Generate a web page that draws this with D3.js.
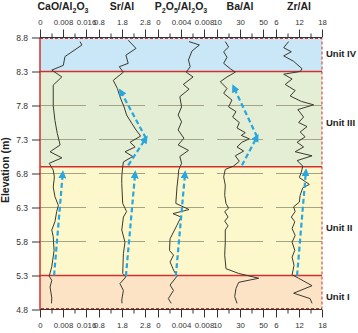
<!DOCTYPE html>
<html>
<head>
<meta charset="utf-8">
<script src="https://cdn.jsdelivr.net/npm/d3@7"></script>
<style>
  body { margin: 0; background: #fff; }
  svg { font-family: "Liberation Sans", Arial, sans-serif; }
</style>
</head>
<body>
<svg id="svg" width="358" height="333"></svg>
<script>
// ---- data ----
let titles = ["CaO/Al2O3", "Sr/Al", "P2O5/Al2O3", "Ba/Al", "Zr/Al"];
let domains = [[0, 0.016], [0.8, 2.8], [0, 0.008], [10, 50], [6, 18]];
let majorTicks = [[0, 0.008, 0.016], [0.8, 1.8, 2.8], [0, 0.004, 0.008], [10, 30, 50], [6, 12, 18]];
let minorTicks = [[0.004, 0.012], [1.3, 2.3], [0.002, 0.006], [20, 40], [9, 15]];

let elevTicks = [4.8, 5.3, 5.8, 6.3, 6.8, 7.3, 7.8, 8.3, 8.8];
let gridElev = [5.8, 6.3, 6.8, 7.3, 7.8];
let unitNames = ["Unit I", "Unit II", "Unit III", "Unit IV"];
let unitBottom = [4.8, 5.3, 6.9, 8.3];
let unitTop = [5.3, 6.9, 8.3, 8.8];
let unitLabelElev = [4.99, 6.0, 7.55, 8.56];
let unitColors = ["#fde3c6", "#fdf8cc", "#e3eed4", "#c9e7f7"];

let caoElev = [8.74, 8.69, 8.52, 8.39, 8.32, 8.22, 8.10, 7.80, 7.58, 7.39, 7.22, 7.12, 7.03, 6.95, 6.85, 6.75, 6.60, 6.46, 6.33, 6.24, 6.09, 5.97, 5.87, 5.67, 5.43, 5.29, 5.23, 5.13, 4.97, 4.89];
let caoVal = [0.0139, 0.0146, 0.0087, 0.0081, 0.0041, 0.0076, 0.0046, 0.0046, 0.0052, 0.0060, 0.0070, 0.0035, 0.0076, 0.0032, 0.0046, 0.0050, 0.0046, 0.0052, 0.0064, 0.0058, 0.0052, 0.0041, 0.0046, 0.0049, 0.0041, 0.0032, 0.0041, 0.0035, 0.0041, 0.0040];

let srElev = [8.76, 8.64, 8.54, 8.42, 8.37, 8.29, 8.17, 8.05, 7.93, 7.78, 7.66, 7.54, 7.44, 7.35, 7.26, 7.19, 7.12, 7.05, 6.97, 6.90, 6.75, 6.65, 6.36, 6.24, 6.16, 5.97, 5.79, 5.62, 5.33, 5.28, 5.18, 5.08, 4.94, 4.89];
let srVal = [2.07, 2.41, 1.97, 2.07, 1.68, 1.86, 1.42, 1.60, 1.71, 1.89, 2.00, 2.22, 2.41, 2.61, 2.15, 2.37, 1.93, 2.27, 1.86, 1.83, 1.79, 1.79, 1.83, 2.00, 1.86, 1.79, 1.93, 1.86, 1.83, 1.97, 1.71, 1.86, 1.79, 1.80];

let pElev = [8.74, 8.69, 8.60, 8.47, 8.37, 8.29, 8.22, 8.11, 8.04, 7.93, 7.78, 7.66, 7.56, 7.44, 7.32, 7.22, 7.14, 7.05, 6.95, 6.85, 6.75, 6.60, 6.36, 6.27, 6.21, 6.16, 6.04, 5.84, 5.67, 5.60, 5.50, 5.38, 5.29, 5.16, 5.08, 4.96, 4.89];
let pVal = [0.0054, 0.0072, 0.0059, 0.0053, 0.0056, 0.0049, 0.0061, 0.0044, 0.0054, 0.0038, 0.0041, 0.0035, 0.0041, 0.0035, 0.0045, 0.0035, 0.0053, 0.0038, 0.0041, 0.0036, 0.0035, 0.0033, 0.0031, 0.0054, 0.0026, 0.0040, 0.0033, 0.0021, 0.0020, 0.0027, 0.0021, 0.0027, 0.0033, 0.0021, 0.0027, 0.0018, 0.0023];

let baElev = [8.74, 8.66, 8.59, 8.51, 8.42, 8.34, 8.29, 8.22, 8.15, 8.05, 7.98, 7.88, 7.78, 7.71, 7.63, 7.55, 7.47, 7.40, 7.36, 7.31, 7.26, 7.19, 7.13, 7.06, 6.98, 6.91, 6.86, 6.75, 6.63, 6.48, 6.36, 6.29, 6.24, 6.16, 6.10, 6.03, 5.97, 5.79, 5.60, 5.40, 5.33, 5.26, 5.20, 5.11, 4.99, 4.89];
let baVal = [17.2, 20.1, 15.8, 18.7, 15.8, 21.6, 25.9, 18.7, 12.9, 18.7, 15.8, 23.0, 20.1, 26.5, 23.6, 29.4, 27.4, 34.6, 31.1, 38.1, 31.7, 27.4, 33.2, 25.9, 29.4, 24.5, 17.2, 15.8, 17.2, 16.7, 17.8, 20.1, 16.7, 19.6, 16.7, 19.6, 17.2, 17.2, 16.7, 17.8, 28.9, 46.3, 28.9, 26.5, 25.4, 27.4];

let zrElev = [8.74, 8.65, 8.59, 8.53, 8.45, 8.34, 8.30, 8.26, 8.19, 8.11, 8.02, 7.94, 7.86, 7.81, 7.74, 7.63, 7.55, 7.49, 7.41, 7.34, 7.26, 7.19, 7.12, 7.06, 6.99, 6.91, 6.82, 6.74, 6.64, 6.59, 6.48, 6.38, 6.31, 6.24, 6.16, 6.09, 5.99, 5.89, 5.79, 5.67, 5.57, 5.45, 5.31, 5.26, 5.15, 5.04, 4.96, 4.89];
let zrVal = [9.3, 8.0, 10.0, 8.0, 10.6, 12.8, 12.3, 8.0, 10.2, 8.4, 11.0, 9.7, 12.6, 15.8, 11.7, 13.2, 11.9, 14.1, 12.3, 13.6, 11.5, 13.2, 11.0, 15.4, 11.5, 13.0, 12.6, 12.1, 14.7, 13.0, 12.3, 12.1, 10.6, 11.0, 10.0, 10.9, 10.2, 11.0, 10.2, 10.9, 10.2, 10.7, 10.2, 11.9, 15.4, 10.6, 14.9, 15.4];

// trend arrows: [elevFrom, valueFrom, elevTo, valueTo]
let caoArrows = [[5.30, 0.0049, 6.80, 0.0079]];
let srArrows = [[5.29, 1.97, 6.80, 2.37], [6.92, 2.07, 7.32, 2.84], [7.32, 2.84, 8.01, 1.74]];
let pArrows = [[5.29, 0.0031, 6.80, 0.0047]];
let baArrows = [[6.92, 31.7, 7.34, 44.8], [7.34, 44.8, 8.07, 24.5]];
let zrArrows = [[5.30, 11.5, 6.83, 13.8]];

let seriesElev = [caoElev, srElev, pElev, baElev, zrElev];
let seriesVal = [caoVal, srVal, pVal, baVal, zrVal];
let seriesArrows = [caoArrows, srArrows, pArrows, baArrows, zrArrows];

// ---- layout ----
let svg = d3.select("#svg");
let plot = {left: 40, right: 322, top: 37.5, bottom: 309.5};
let panelW = 46, panelStep = 59;

let yScale = d3.scaleLinear().domain([4.8, 8.8]).range([plot.bottom, plot.top]);

let defs = svg.append("defs");
defs.append("marker")
	.attr("id", "arrowHead")
	.attr("viewBox", "0 0 10 10")
	.attr("refX", 6).attr("refY", 5)
	.attr("markerUnits", "userSpaceOnUse")
	.attr("markerWidth", 8).attr("markerHeight", 8)
	.attr("orient", "auto")
	.append("path")
	.attr("d", "M0,0 L10,5 L0,10 z")
	.attr("fill", "#27a6df");

// unit background bands
svg.append("g").selectAll("rect").data(unitNames).enter()
	.append("rect")
	.attr("x", plot.left)
	.attr("width", plot.right - plot.left)
	.attr("y", (d, i) => yScale(unitTop[i]))
	.attr("height", (d, i) => yScale(unitBottom[i]) - yScale(unitTop[i]))
	.attr("fill", (d, i) => unitColors[i]);

// x scales, one per panel
let xScales = domains.map((dom, i) =>
	d3.scaleLinear().domain(dom).range([plot.left + i * panelStep, plot.left + i * panelStep + panelW]));

// grey reference lines in each panel
xScales.forEach(function(x) {
	svg.append("g").selectAll("line").data(gridElev).enter()
		.append("line")
		.attr("x1", x.range()[0]).attr("x2", x.range()[1])
		.attr("y1", d => yScale(d)).attr("y2", d => yScale(d))
		.attr("stroke", "#a3a386")
		.attr("stroke-width", 1);
});

// unit boundaries
svg.append("g").selectAll("line").data(unitBottom.slice(1)).enter()
	.append("line")
	.attr("x1", plot.left).attr("x2", plot.right)
	.attr("y1", d => yScale(d)).attr("y2", d => yScale(d))
	.attr("stroke", "#d3302c")
	.attr("stroke-width", 1.6);

// data curves
let line = d3.line();
xScales.forEach(function(x, i) {
	let pts = seriesElev[i].map((e, j) => [x(seriesVal[i][j]), yScale(e)]);
	svg.append("path")
		.attr("d", line(pts))
		.attr("fill", "none")
		.attr("stroke", "#3a3a30")
		.attr("stroke-width", 1)
		.attr("stroke-linejoin", "round");
});

// dashed trend arrows
xScales.forEach(function(x, i) {
	svg.append("g").selectAll("line").data(seriesArrows[i]).enter()
		.append("line")
		.attr("x1", d => x(d[1])).attr("y1", d => yScale(d[0]))
		.attr("x2", d => x(d[3])).attr("y2", d => yScale(d[2]))
		.attr("stroke", "#27a6df")
		.attr("stroke-width", 2.2)
		.attr("stroke-dasharray", "5,3")
		.attr("marker-end", "url(#arrowHead)");
});

// frame: solid red left, dashed red elsewhere
svg.append("line")
	.attr("x1", plot.left).attr("x2", plot.left)
	.attr("y1", plot.top).attr("y2", plot.bottom)
	.attr("stroke", "#d3302c").attr("stroke-width", 1.5);
svg.append("path")
	.attr("d", "M" + plot.left + "," + (plot.top + 1) + "H" + plot.right + "V" + (plot.bottom - 1) + "H" + plot.left)
	.attr("fill", "none")
	.attr("stroke", "#c8302c")
	.attr("stroke-width", 1)
	.attr("stroke-dasharray", "3,2");

// black axis lines top and bottom
[plot.top, plot.bottom].forEach(function(yy) {
	svg.append("line")
		.attr("x1", plot.left).attr("x2", plot.right)
		.attr("y1", yy).attr("y2", yy)
		.attr("stroke", "#333").attr("stroke-width", 1);
});

// top and bottom axes with major + minor ticks
xScales.forEach(function(x, i) {
	[[plot.top, d3.axisTop, 5], [plot.bottom, d3.axisBottom, 5]].forEach(function(a) {
		let major = svg.append("g")
			.attr("transform", "translate(0," + a[0] + ")")
			.call(a[1](x).tickValues(majorTicks[i]).tickSize(8).tickSizeOuter(0).tickPadding(a[2]).tickFormat(d => String(d)));
		let minor = svg.append("g")
			.attr("transform", "translate(0," + a[0] + ")")
			.call(a[1](x).tickValues(minorTicks[i]).tickSize(4).tickSizeOuter(0).tickFormat(""));
		[major, minor].forEach(function(g) {
			g.select(".domain").remove();
			g.selectAll(".tick line").attr("stroke", "#333");
		});
		major.selectAll("text")
			.attr("font-size", 7.8)
			.attr("font-family", "Liberation Sans, Arial, sans-serif")
			.attr("fill", "#333");
	});
});

// panel titles with subscripts (relative dy keeps one centred text chunk)
xScales.forEach(function(x, i) {
	let t = svg.append("text")
		.attr("x", (x.range()[0] + x.range()[1]) / 2)
		.attr("y", 10)
		.attr("text-anchor", "middle")
		.attr("font-size", 10.5)
		.attr("font-weight", "bold")
		.attr("fill", "#222");
	let shift = 0;
	titles[i].split(/(\d)/).filter(s => s.length).forEach(function(part) {
		let target = /^\d$/.test(part) ? 3 : 0;
		t.append("tspan")
			.attr("dy", target - shift)
			.attr("font-size", target ? 7 : 10.5)
			.text(part);
		shift = target;
	});
});

// y axis
let yAxis = svg.append("g")
	.attr("transform", "translate(" + plot.left + ",0)")
	.call(d3.axisLeft(yScale).tickValues(elevTicks).tickSize(8).tickPadding(4).tickFormat(d3.format(".1f")));
yAxis.select(".domain").remove();
yAxis.selectAll(".tick line").attr("stroke", "#333");
yAxis.selectAll("text")
	.attr("font-size", 8.5)
	.attr("font-family", "Liberation Sans, Arial, sans-serif")
	.attr("fill", "#333");

svg.append("text")
	.attr("transform", "translate(9," + yScale(6.85) + ") rotate(-90)")
	.attr("text-anchor", "middle")
	.attr("font-size", 10.5)
	.attr("font-weight", "bold")
	.attr("fill", "#222")
	.text("Elevation (m)");

// unit labels on the right
svg.append("g").selectAll("text").data(unitNames).enter()
	.append("text")
	.attr("x", 326)
	.attr("y", (d, i) => yScale(unitLabelElev[i]))
	.attr("dy", "0.35em")
	.attr("font-size", 9.5)
	.attr("font-weight", "bold")
	.attr("fill", "#222")
	.text(d => d);
</script>
</body>
</html>
